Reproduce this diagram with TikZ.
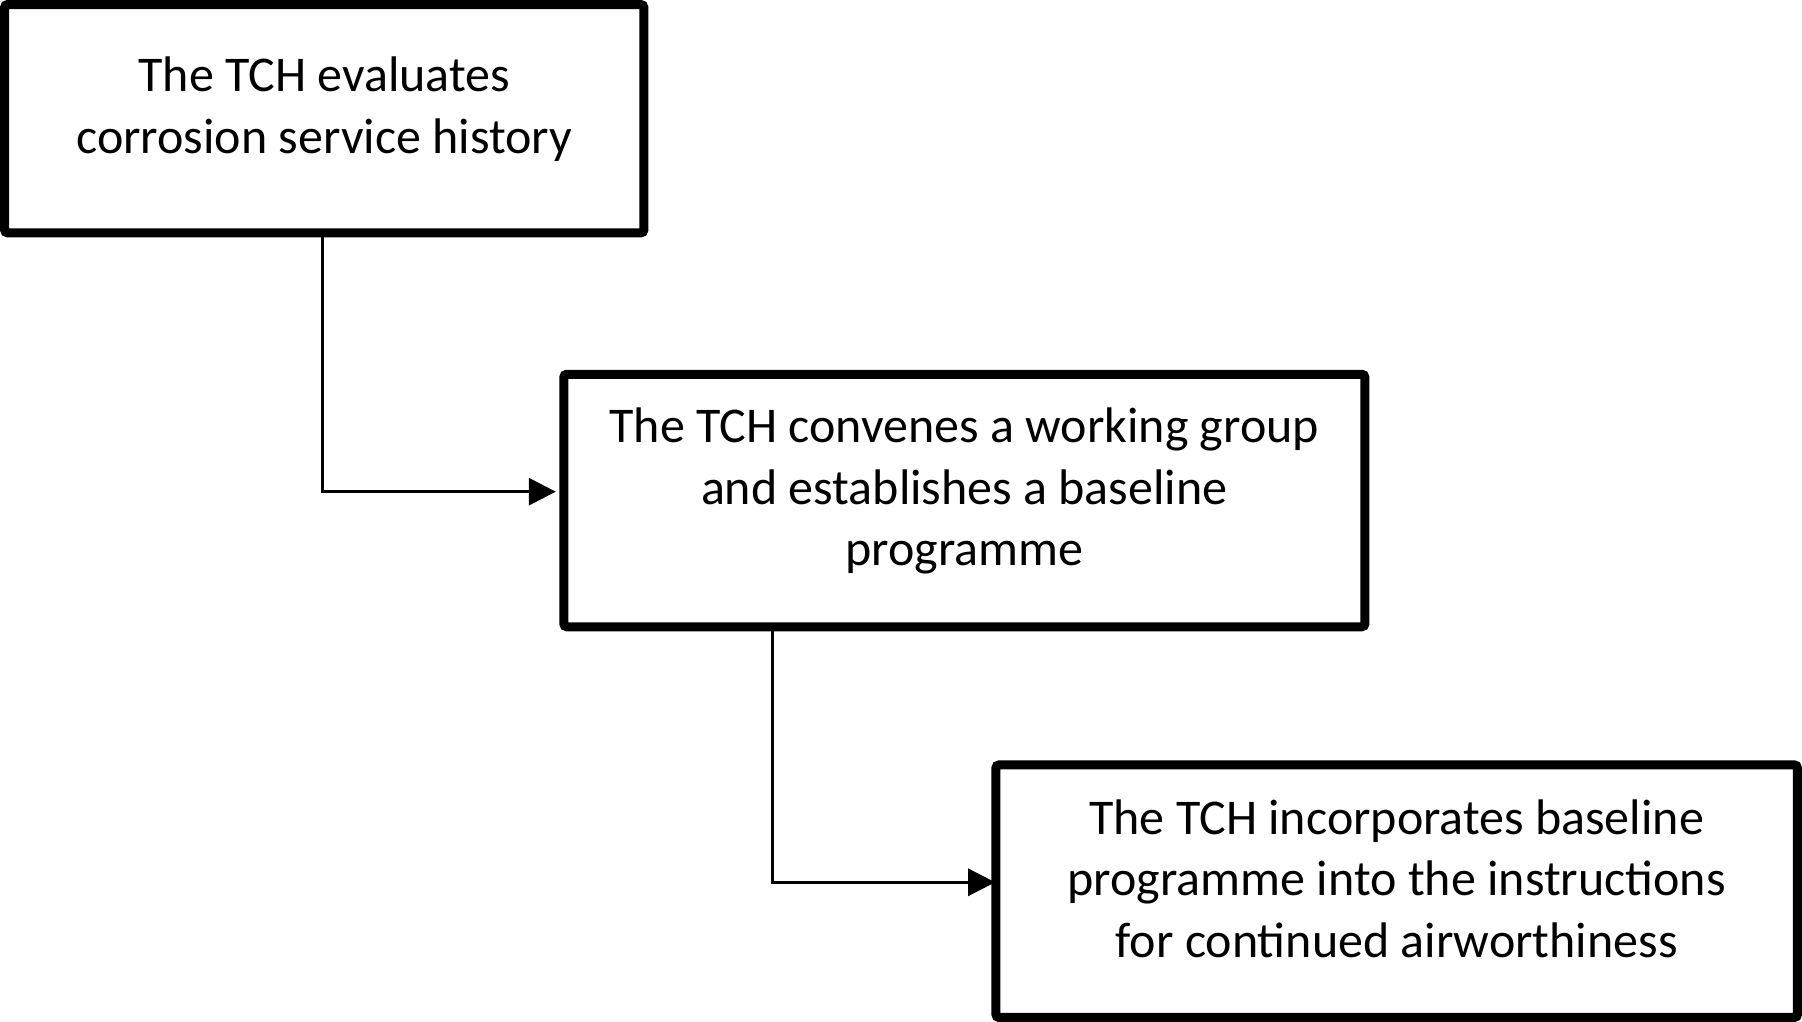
\documentclass[tikz,border=0pt]{standalone}
\usepackage{fontspec}
\setmainfont{Carlito}
\usetikzlibrary{arrows.meta}
\begin{document}
\begin{tikzpicture}[x=1pt,y=-1pt,
  stepbox/.style={draw=black,line width=9pt,rounded corners=3pt,fill=white,inner sep=0pt},
  txt/.style={align=center,font=\fontsize{50}{61.5}\selectfont,inner sep=0pt},
  conn/.style={line width=3pt,-{Triangle[length=27pt 0 0,width=27pt 0 0]}}]
\useasboundingbox (0,0) rectangle (1802,1022);
\node[stepbox,minimum width=639.3pt,minimum height=228.3pt] (b1) at (324.2,118.7) {};
\node[stepbox,minimum width=801pt,minimum height=252.5pt] (b2) at (964.3,500.5) {};
\node[stepbox,minimum width=801.5pt,minimum height=252.5pt] (b3) at (1396.7,891.2) {};
\node[txt] (t1) at (324.2,109) {The TCH evaluates\\corrosion service history};
\node[txt] (t2) at (964.3,491) {The TCH convenes a working group\\and establishes a baseline\\programme};
\node[txt] (t3) at (1396.7,878.5) {The TCH incorporates baseline\\programme into the instructions\\for continued airworthiness};
\coordinate (c1) at (322,0);
\coordinate (c2) at (772,0);
\coordinate (e1) at ([yshift=8.8pt]b2.west);
\coordinate (e2) at ([yshift=8.9pt]b3.west);
\draw[conn,shorten >=3.5pt] (b1.south -| c1) |- (e1);
\draw[conn,shorten >=-3.7pt] (b2.south -| c2) |- (e2);
\end{tikzpicture}
\end{document}
